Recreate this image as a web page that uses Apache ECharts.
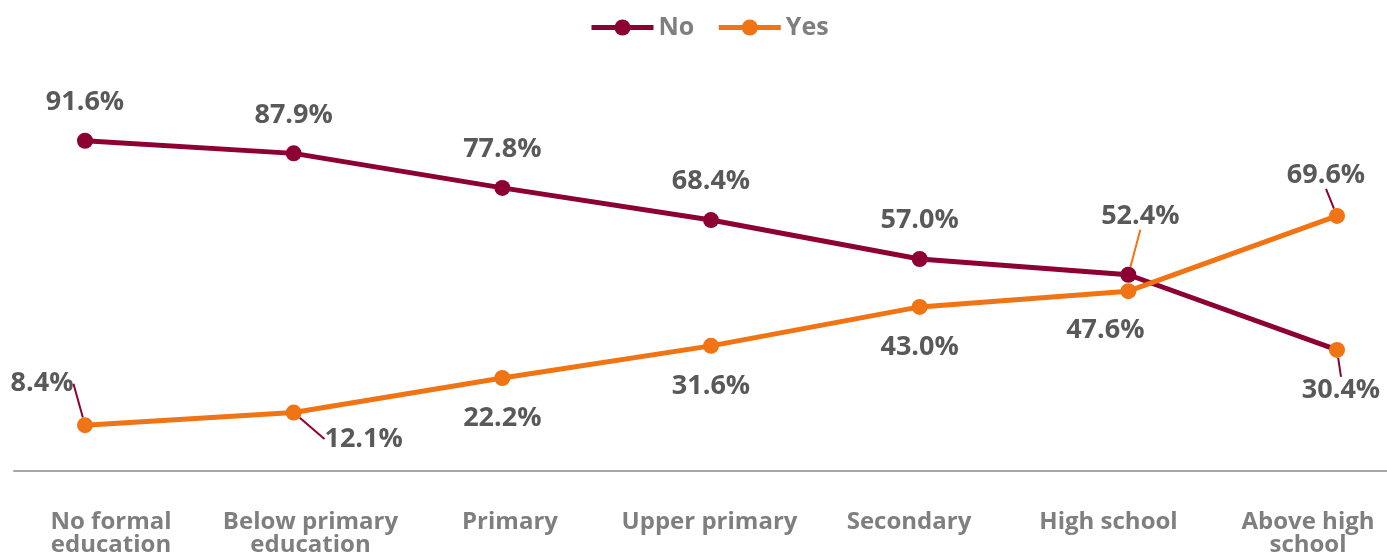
<!DOCTYPE html>
<html>
<head>
<meta charset="utf-8">
<script src="https://cdn.jsdelivr.net/npm/echarts@6/dist/echarts.min.js"></script>
<style>
  html, body { margin: 0; padding: 0; background: #ffffff; }
  #chart { width: 1387px; height: 553px; }
</style>
</head>
<body>
<div id="chart"></div>
<script>
// Share of respondents by education level
const categories = [
  'No formal\neducation',
  'Below primary\neducation',
  'Primary',
  'Upper primary',
  'Secondary',
  'High school',
  'Above high\nschool'
];
const noValues  = [91.6, 87.9, 77.8, 68.4, 57.0, 52.4, 30.4];
const yesValues = [8.4, 12.1, 22.2, 31.6, 43.0, 47.6, 69.6];

const COLOR_NO = '#8C0034';
const COLOR_YES = '#F07314';
const FONT = '"Open Sans", sans-serif';

// label nudges (dx, dy) and leader-line colours for crowded points
const noNudge = { 5: [12, -20, COLOR_YES], 6: [4, 2, COLOR_NO] };
const yesNudge = { 0: [-43, -82, COLOR_NO], 1: [70, -14, COLOR_NO], 5: [-23, -1, null], 6: [-11, 0, COLOR_NO] };

function buildData(values, nudges, extra) {
  return values.map((v, i) => {
    const item = { value: v };
    const n = nudges[i];
    if (n) {
      item.labelLine = n[2]
        ? { show: true, lineStyle: { color: n[2], width: 2 } }
        : { show: false };
    }
    if (extra && extra[i]) Object.assign(item, extra[i]);
    return item;
  });
}

const labelStyle = {
  show: true,
  fontFamily: FONT,
  fontWeight: 'bold',
  fontSize: 27,
  color: '#595959',
  formatter: p => p.value.toFixed(1) + '%'
};

const plotBox = { top: 112, bottom: 82, containLabel: false, outerBoundsMode: 'none' };

const chart = echarts.init(document.getElementById('chart'));
chart.setOption({
  animation: false,
  legend: {
    top: 10,
    left: 584,
    itemWidth: 62,
    itemHeight: 20,
    itemGap: 22,
    lineStyle: { width: 5 },
    textStyle: { fontFamily: FONT, fontWeight: 'bold', fontSize: 25, color: '#7F7F7F' },
    data: ['No', 'Yes']
  },
  grid: [
    Object.assign({ left: 85, right: 50 }, plotBox),   // plotting area
    Object.assign({ left: 14, right: 0 }, plotBox),    // baseline rule
    Object.assign({ left: 111, right: 79 }, plotBox)   // category captions
  ],
  xAxis: [
    {
      type: 'category',
      gridIndex: 0,
      data: categories,
      boundaryGap: false,
      axisLine: { show: false },
      axisTick: { show: false },
      axisLabel: { show: false }
    },
    {
      type: 'value',
      gridIndex: 1,
      min: 0,
      max: 1,
      axisLine: { show: true, onZero: false, lineStyle: { color: '#A6A6A6', width: 2 } },
      axisTick: { show: false },
      axisLabel: { show: false },
      splitLine: { show: false }
    },
    {
      type: 'category',
      gridIndex: 2,
      data: categories,
      boundaryGap: false,
      axisLine: { show: false },
      axisTick: { show: false },
      axisLabel: {
        interval: 0,
        margin: 40,
        fontFamily: FONT,
        fontWeight: 'bold',
        fontSize: 24,
        lineHeight: 23,
        color: '#7F7F7F'
      }
    }
  ],
  yAxis: [
    { type: 'value', gridIndex: 0, min: -5, max: 100, show: false },
    { type: 'value', gridIndex: 1, min: 0, max: 1, show: false },
    { type: 'value', gridIndex: 2, min: 0, max: 1, show: false }
  ],
  series: [
    {
      name: 'No',
      type: 'line',
      xAxisIndex: 0,
      yAxisIndex: 0,
      data: buildData(noValues, noNudge, {
        6: { itemStyle: { color: COLOR_YES }, label: { position: 'bottom' } }
      }),
      symbol: 'circle',
      symbolSize: 16,
      lineStyle: { width: 5, color: COLOR_NO },
      itemStyle: { color: COLOR_NO },
      label: Object.assign({}, labelStyle, { position: 'top', distance: 17 }),
      labelLine: { show: false },
      labelLayout: p => {
        const n = noNudge[p.dataIndex];
        return n ? { dx: n[0], dy: n[1] } : {};
      }
    },
    {
      name: 'Yes',
      type: 'line',
      xAxisIndex: 0,
      yAxisIndex: 0,
      data: buildData(yesValues, yesNudge, { 6: { label: { position: 'top' } } }),
      symbol: 'circle',
      symbolSize: 16,
      lineStyle: { width: 5, color: COLOR_YES },
      itemStyle: { color: COLOR_YES },
      label: Object.assign({}, labelStyle, { position: 'bottom', distance: 19 }),
      labelLine: { show: false },
      labelLayout: p => {
        const n = yesNudge[p.dataIndex];
        return n ? { dx: n[0], dy: n[1] } : {};
      }
    }
  ]
});
</script>
</body>
</html>
